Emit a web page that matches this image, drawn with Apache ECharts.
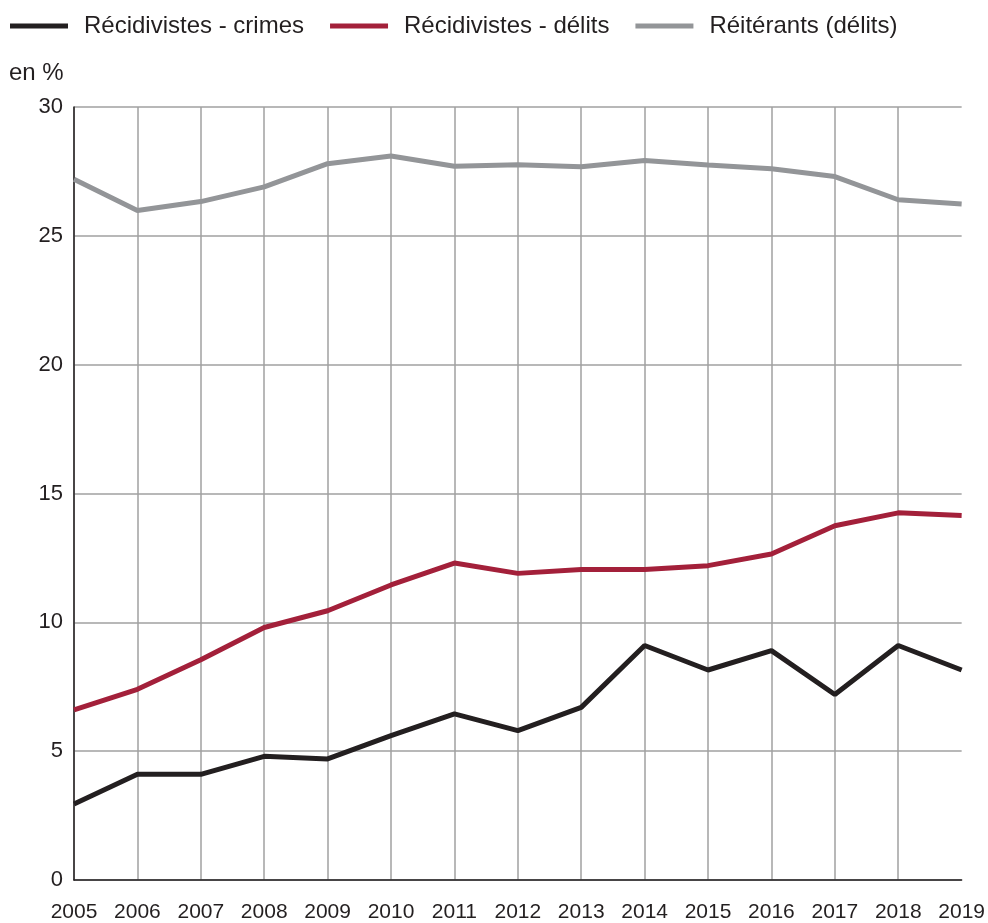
<!DOCTYPE html>
<html>
<head>
<meta charset="utf-8">
<script src="https://cdn.jsdelivr.net/npm/echarts@6/dist/echarts.min.js"></script>
<style>
  html, body { margin: 0; padding: 0; background: #fff; }
  #chart-root { width: 988px; height: 923px; }
</style>
</head>
<body>
<div id="chart-root"></div>
<script>
const years = ['2005', '2006', '2007', '2008', '2009', '2010', '2011', '2012', '2013', '2014', '2015', '2016', '2017', '2018', '2019']
const seriesNames = ['Récidivistes - crimes', 'Récidivistes - délits', 'Réitérants (délits)']
const crimes = [2.95, 4.1, 4.1, 4.8, 4.7, 5.6, 6.45, 5.8, 6.7, 9.1, 8.15, 8.9, 7.2, 9.1, 8.15]
const delits = [6.6, 7.4, 8.55, 9.8, 10.45, 11.45, 12.3, 11.9, 12.05, 12.05, 12.2, 12.65, 13.75, 14.25, 14.15]
const reiterants = [27.2, 25.98, 26.33, 26.9, 27.8, 28.1, 27.7, 27.76, 27.68, 27.92, 27.75, 27.6, 27.3, 26.4, 26.24]
const yTicks = { min: 0, max: 30, interval: 5 }

const colors = ['#231f20', '#a3203a', '#939598']
const font = '"Liberation Sans", Arial, sans-serif'

let chart = echarts.init(document.getElementById('chart-root'))

let option = {
  animation: false,
  color: colors,
  textStyle: { fontFamily: font, color: '#231f20' },
  title: {
    text: 'en %',
    left: 4,
    top: 56,
    textStyle: { fontFamily: font, fontSize: 24, fontWeight: 'normal', color: '#231f20' }
  },
  legend: {
    left: 5,
    top: 9,
    icon: 'rect',
    itemWidth: 58,
    itemHeight: 5,
    itemGap: 26,
    textStyle: { fontFamily: font, fontSize: 24, color: '#231f20', padding: [0, 0, 0, 11] },
    data: seriesNames
  },
  grid: {
    top: 107,
    bottom: 42,
    left: 74,
    right: 24
  },
  xAxis: {
    type: 'category',
    boundaryGap: false,
    data: years,
    axisLine: { lineStyle: { color: '#231f20', width: 1.5 } },
    axisTick: { show: false },
    axisLabel: { fontFamily: font, fontSize: 21, color: '#231f20', margin: 22, interval: 0 },
    splitLine: {
      show: true,
      interval: (idx) => idx < years.length - 1,
      lineStyle: { color: '#a0a0a0', width: 1.5 }
    }
  },
  yAxis: {
    type: 'value',
    min: yTicks.min,
    max: yTicks.max,
    interval: yTicks.interval,
    axisLine: { show: true, lineStyle: { color: '#231f20', width: 1.5 } },
    axisTick: { show: false },
    axisLabel: { fontFamily: font, fontSize: 22, color: '#231f20', margin: 11 },
    splitLine: { show: true, lineStyle: { color: '#a0a0a0', width: 1.5 } }
  },
  series: [
    {
      name: seriesNames[0],
      type: 'line',
      showSymbol: false,
      lineStyle: { width: 5, color: colors[0] },
      itemStyle: { color: colors[0] },
      data: crimes
    },
    {
      name: seriesNames[1],
      type: 'line',
      showSymbol: false,
      lineStyle: { width: 5, color: colors[1] },
      itemStyle: { color: colors[1] },
      data: delits
    },
    {
      name: seriesNames[2],
      type: 'line',
      showSymbol: false,
      lineStyle: { width: 5, color: colors[2] },
      itemStyle: { color: colors[2] },
      data: reiterants
    }
  ]
}

chart.setOption(option)
</script>
</body>
</html>
